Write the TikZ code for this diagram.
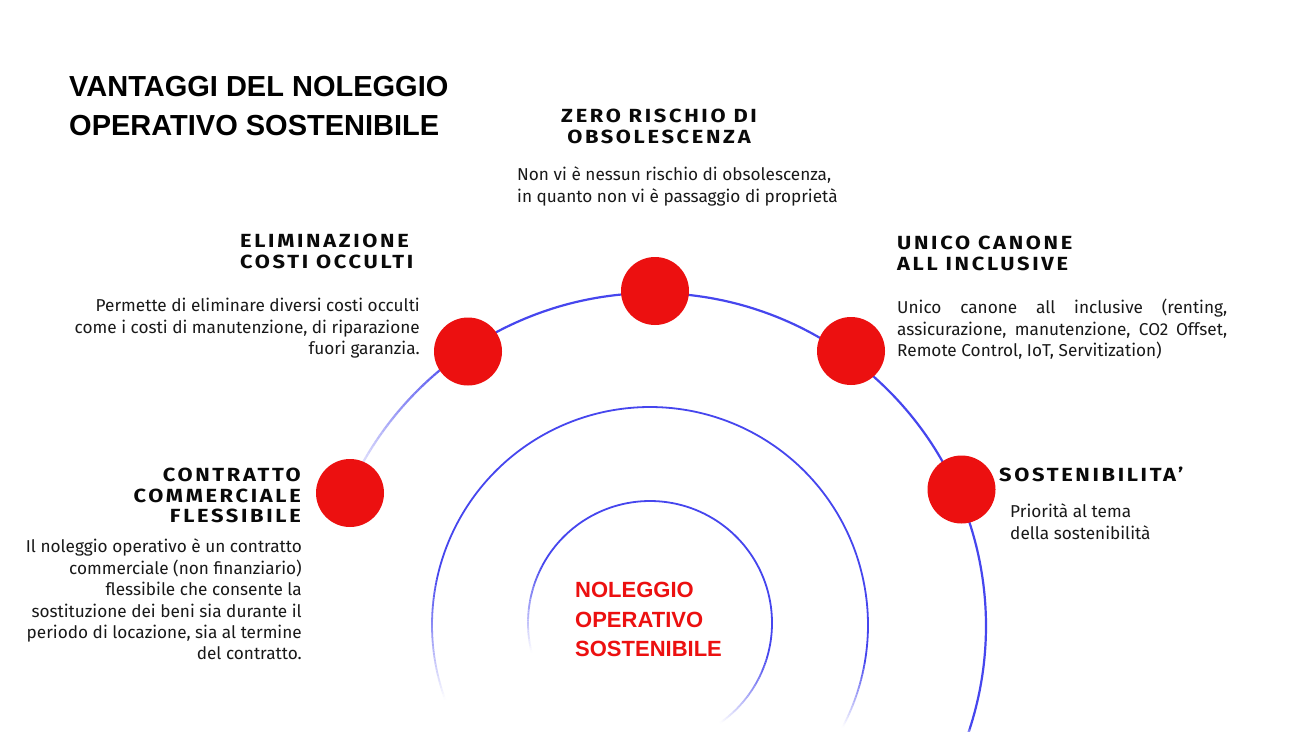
\documentclass[tikz,border=0pt]{standalone}
\usepackage{fontspec}
\setmainfont{Fira Sans}
\newfontfamily\arialfont{Liberation Sans}
\newfontfamily\headfont{Fira Sans}[LetterSpace=14,FakeStretch=1.15]
\setlength{\parindent}{0pt}
\definecolor{arcblue}{RGB}{70,70,238}
\definecolor{dotred}{RGB}{236,16,16}
\definecolor{bodycol}{RGB}{25,25,25}
\definecolor{headcol}{RGB}{10,10,10}
\tikzset{
  dot/.style={circle, fill=dotred, draw=none, minimum size=68pt, inner sep=0pt},
  titletext/.style={font=\arialfont\bfseries\fontsize{29}{39}\selectfont, text=black, inner sep=0pt},
  headtext/.style={font=\headfont\bfseries\fontsize{19}{20.5}\selectfont, text=headcol, inner sep=0pt},
  body/.style={font=\fontsize{17.2}{21.4}\selectfont, text=bodycol, inner sep=0pt},
  coretext/.style={font=\arialfont\bfseries\fontsize{22}{29.5}\selectfont, text=dotred, inner sep=0pt},
}
% cx cy R lw leftfull leftend rightfull rightend
\newcommand\ringarc[8]{%
  \draw[color=arcblue, line width=#4] plot[domain=#7:#5, samples=160] ({#1+#3*cos(\x)},{#2-#3*sin(\x)});
  \foreach \k in {0,...,39}{%
    \pgfmathsetmacro\aa{#5+(#6-#5)*\k/40}%
    \pgfmathsetmacro\ab{#5+(#6-#5)*(\k+1)/40}%
    \pgfmathtruncatemacro\pp{100*(1-(\k+0.5)/40)}%
    \draw[color=arcblue!\pp!white, line width=#4] ({#1+#3*cos(\aa)},{#2-#3*sin(\aa)}) -- ({#1+#3*cos(\ab)},{#2-#3*sin(\ab)});
    \pgfmathsetmacro\ba{#7+(#8-#7)*\k/40}%
    \pgfmathsetmacro\bb{#7+(#8-#7)*(\k+1)/40}%
    \draw[color=arcblue!\pp!white, line width=#4] ({#1+#3*cos(\ba)},{#2-#3*sin(\ba)}) -- ({#1+#3*cos(\bb)},{#2-#3*sin(\bb)});
  }%
}
\begin{document}
\begin{tikzpicture}[x=1pt,y=-1pt]
\useasboundingbox (0,0) rectangle (1300,731);
\fill[white] (0,0) rectangle (1300,731);

% rings
\ringarc{653}{626}{333}{2.2}{127}{156}{-18}{-20}
\ringarc{650}{625}{218}{1.8}{168}{200}{-10}{-28}
\ringarc{650}{623}{122}{1.8}{152}{194}{-17}{-55}

% circles
\node[dot] (top) at (655,291) {};
\node[dot] (upleft) at (468,351.5) {};
\node[dot] (upright) at (851,351) {};
\node[dot] (left) at (350,493) {};
\node[dot] (right) at (961.5,489.5) {};

% title
\node[titletext, anchor=north west, align=left] (title) at (69,76) {VANTAGGI DEL NOLEGGIO\\OPERATIVO SOSTENIBILE};

% top
\node[headtext, anchor=north, align=center] (h1) at (659,109) {ZERO RISCHIO DI\\OBSOLESCENZA};
\node[body, anchor=north west, align=left] (b1) at (517,167) {Non vi è nessun rischio di obsolescenza,\\in quanto non vi è passaggio di proprietà};

% upper left
\node[headtext, anchor=north west, align=left] (h2) at (240,234) {ELIMINAZIONE\\COSTI OCCULTI};
\node[body, anchor=north east, align=right] (b2) at (420,298) {Permette di eliminare diversi costi occulti\\come i costi di manutenzione, di riparazione\\fuori garanzia.};

% upper right
\node[headtext, anchor=north west, align=left] (h3) at (897,236) {UNICO CANONE\\ALL INCLUSIVE};
\node[body, anchor=north west, text width=330pt, align=justify] (b3) at (897,299) {Unico canone all inclusive (renting,\linebreak assicurazione, manutenzione, CO2 Offset,\linebreak Remote Control, IoT, Servitization)};

% left
\node[headtext, anchor=north east, align=right] (h4) at (301,468) {CONTRATTO\\COMMERCIALE\\FLESSIBILE};
\node[body, anchor=north east, align=right] (b4) at (302,539) {Il noleggio operativo è un contratto\\commerciale (non finanziario)\\flessibile che consente la\\sostituzione dei beni sia durante il\\periodo di locazione, sia al termine\\del contratto.};

% right
\node[headtext, anchor=north west] (h5) at (999,467) {SOSTENIBILITA’};
\node[body, anchor=north west, align=left] (b5) at (1010,504) {Priorità al tema\\della sostenibilità};

% core
\node[coretext, anchor=north west, align=left] (core) at (575,582) {NOLEGGIO\\OPERATIVO\\SOSTENIBILE};
\end{tikzpicture}
\end{document}
